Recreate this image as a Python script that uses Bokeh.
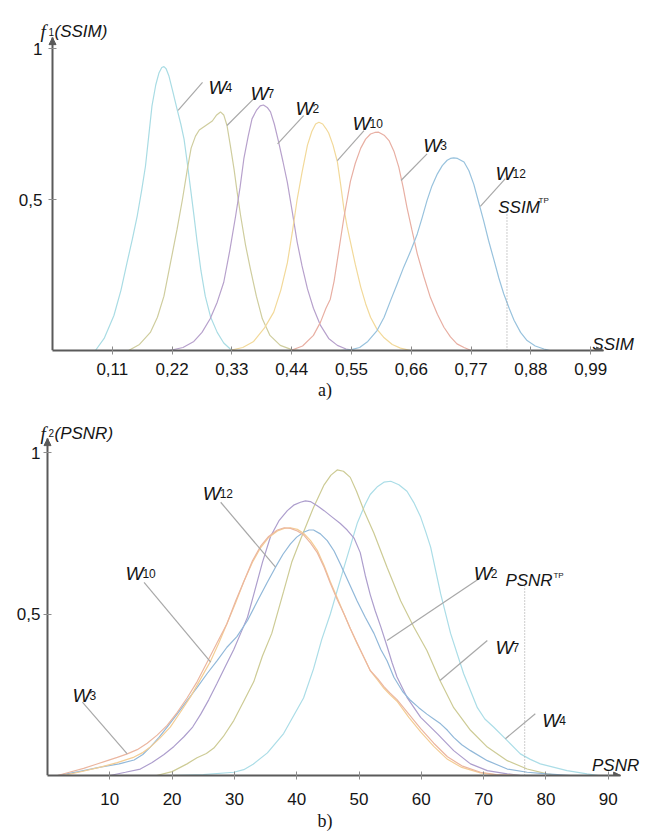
from bokeh.plotting import figure
from bokeh.models import (Range1d, FixedTicker, CustomJSTickFormatter, Arrow,
                          NormalHead, ColumnDataSource)
from bokeh.layouts import column
from bokeh.embed import file_html
from bokeh.resources import INLINE
from bokeh.core.properties import value

# ---------------- panel a): SSIM densities ----------------
ssim_w4_x = [0.079, 0.095, 0.113, 0.126, 0.137, 0.147, 0.156, 0.164, 0.171, 0.177, 0.183, 0.190, 0.196, 0.201, 0.205,
             0.209, 0.214, 0.221, 0.229, 0.236, 0.242, 0.248, 0.254, 0.260, 0.266, 0.273, 0.281, 0.291, 0.303, 0.315,
             0.327, 0.335]
ssim_w4_y = [0.0, 0.04, 0.116, 0.20, 0.29, 0.37, 0.447, 0.53, 0.61, 0.71, 0.81, 0.88, 0.92, 0.937, 0.94,
             0.933, 0.91, 0.86, 0.80, 0.75, 0.70, 0.62, 0.535, 0.45, 0.36, 0.265, 0.18, 0.11, 0.06, 0.025,
             0.005, 0.0]

ssim_w7_x = [0.140, 0.160, 0.180, 0.193, 0.205, 0.217, 0.229, 0.239, 0.248, 0.255, 0.263, 0.270, 0.278, 0.286, 0.294,
             0.302, 0.309, 0.315, 0.321, 0.327, 0.334, 0.340, 0.346, 0.355, 0.364, 0.375, 0.386, 0.400, 0.419, 0.440,
             0.455]
ssim_w7_y = [0.0, 0.02, 0.06, 0.11, 0.18, 0.29, 0.40, 0.50, 0.60, 0.67, 0.71, 0.73, 0.74, 0.75, 0.76,
             0.78, 0.79, 0.78, 0.745, 0.68, 0.60, 0.52, 0.447, 0.35, 0.27, 0.18, 0.105, 0.05, 0.017, 0.003,
             0.0]

ssim_w2_x = [0.215, 0.240, 0.260, 0.275, 0.290, 0.303, 0.315, 0.326, 0.337, 0.345, 0.352, 0.360, 0.367, 0.375, 0.382,
             0.388, 0.395, 0.401, 0.408, 0.416, 0.424, 0.432, 0.441, 0.450, 0.459, 0.469, 0.480, 0.493, 0.508, 0.524,
             0.540, 0.557]
ssim_w2_y = [0.0, 0.01, 0.03, 0.06, 0.105, 0.16, 0.226, 0.33, 0.447, 0.54, 0.635, 0.71, 0.767, 0.795, 0.81,
             0.813, 0.805, 0.79, 0.75, 0.69, 0.625, 0.557, 0.46, 0.36, 0.28, 0.204, 0.14, 0.083, 0.04, 0.017,
             0.005, 0.0]

ssim_w10_x = [0.325, 0.350, 0.370, 0.390, 0.407, 0.420, 0.432, 0.441, 0.450, 0.459, 0.469, 0.477, 0.484, 0.490, 0.497,
              0.503, 0.508, 0.516, 0.524, 0.530, 0.536, 0.542, 0.548, 0.557, 0.567, 0.576, 0.585, 0.597, 0.609, 0.625,
              0.640, 0.659]
ssim_w10_y = [0.0, 0.01, 0.03, 0.075, 0.127, 0.20, 0.29, 0.39, 0.50, 0.59, 0.68, 0.725, 0.75, 0.756, 0.75,
              0.735, 0.72, 0.68, 0.625, 0.55, 0.47, 0.41, 0.36, 0.285, 0.21, 0.155, 0.11, 0.07, 0.044, 0.02,
              0.008, 0.0]

ssim_w3_x = [0.438, 0.460, 0.480, 0.493, 0.503, 0.511, 0.518, 0.524, 0.530, 0.536, 0.542, 0.548, 0.557, 0.567, 0.576,
             0.585, 0.593, 0.600, 0.610, 0.619, 0.628, 0.637, 0.645, 0.652, 0.661, 0.671, 0.683, 0.695, 0.708, 0.720,
             0.732, 0.744, 0.757, 0.770]
ssim_w3_y = [0.0, 0.015, 0.05, 0.094, 0.14, 0.17, 0.23, 0.30, 0.37, 0.44, 0.50, 0.56, 0.62, 0.67, 0.70,
             0.717, 0.722, 0.723, 0.713, 0.695, 0.66, 0.607, 0.54, 0.474, 0.40, 0.32, 0.245, 0.176, 0.12, 0.077,
             0.045, 0.022, 0.01, 0.0]

ssim_w12_x = [0.530, 0.550, 0.565, 0.580, 0.597, 0.610, 0.622, 0.634, 0.646, 0.659, 0.671, 0.680, 0.689, 0.698, 0.708,
              0.717, 0.726, 0.732, 0.738, 0.745, 0.751, 0.757, 0.766, 0.775, 0.784, 0.793, 0.802, 0.812, 0.821, 0.830,
              0.840, 0.849, 0.861, 0.873, 0.888, 0.904, 0.915]
ssim_w12_y = [0.0, 0.003, 0.01, 0.03, 0.066, 0.11, 0.166, 0.22, 0.276, 0.33, 0.386, 0.44, 0.497, 0.545, 0.585,
              0.612, 0.63, 0.636, 0.638, 0.636, 0.63, 0.624, 0.595, 0.55, 0.49, 0.43, 0.365, 0.30, 0.24, 0.188,
              0.14, 0.10, 0.06, 0.033, 0.015, 0.005, 0.0]

ssim_ticks = [0.11, 0.22, 0.33, 0.44, 0.55, 0.66, 0.77, 0.88, 0.99]
density_ticks = [0.5, 1.0]
ssim_tp = 0.836          # threshold SSIM value (dotted marker)
ssim_tp_top = 0.464

ssim_names = ["4", "7", "2", "10", "3", "12"]

# ---------------- panel b): PSNR densities ----------------
psnr_w4_x = [19.7, 25.0, 29.9, 31.5, 33.0, 35.3, 37.9, 39.5, 41.1, 42.7, 44.0, 45.4, 47.6, 49.7, 51.0,
             51.8, 53.0, 54.0, 55.1, 56.4, 57.7, 58.8, 59.9, 60.7, 61.5, 62.3, 63.1, 64.7, 66.8, 69.0,
             70.2, 71.6, 73.8, 75.9, 77.5, 79.1, 83.4, 86.6, 88.5]
psnr_w4_y = [0.0, 0.003, 0.01, 0.018, 0.035, 0.07, 0.13, 0.185, 0.24, 0.33, 0.42, 0.50, 0.645, 0.78, 0.84,
             0.87, 0.895, 0.908, 0.911, 0.90, 0.88, 0.845, 0.80, 0.755, 0.707, 0.635, 0.563, 0.44, 0.315, 0.21,
             0.175, 0.15, 0.108, 0.067, 0.05, 0.036, 0.015, 0.005, 0.0]

psnr_w7_x = [17.5, 20.0, 22.4, 24.0, 25.5, 26.7, 28.2, 29.9, 31.5, 33.1, 34.5, 36.0, 37.9, 39.2, 40.6,
             42.7, 44.4, 45.5, 46.5, 47.5, 48.6, 49.6, 50.8, 52.4, 54.5, 56.7, 58.8, 60.9, 63.0, 65.2,
             67.9, 70.6, 73.8, 77.0, 80.2, 82.0]
psnr_w7_y = [0.0, 0.012, 0.036, 0.055, 0.068, 0.085, 0.12, 0.17, 0.23, 0.29, 0.37, 0.44, 0.57, 0.66, 0.73,
             0.83, 0.90, 0.93, 0.946, 0.942, 0.923, 0.88, 0.82, 0.75, 0.645, 0.54, 0.46, 0.387, 0.294, 0.21,
             0.14, 0.088, 0.046, 0.02, 0.005, 0.0]

psnr_w2_x = [10.0, 12.5, 14.9, 16.8, 18.7, 20.3, 21.9, 23.3, 24.6, 25.9, 27.2, 28.6, 29.9, 31.0, 32.1,
             33.1, 34.5, 35.8, 37.2, 38.5, 39.6, 40.6, 41.4, 42.2, 43.3, 44.4, 45.7, 47.0, 48.1, 49.2,
             50.2, 51.0, 51.8, 52.6, 53.5, 54.5, 55.3, 56.1, 57.7, 59.9, 62.6, 65.2, 67.9, 70.6, 73.8,
             76.0]
psnr_w2_y = [0.0, 0.01, 0.02, 0.04, 0.065, 0.09, 0.12, 0.15, 0.19, 0.235, 0.285, 0.34, 0.39, 0.44, 0.49,
             0.56, 0.66, 0.74, 0.79, 0.82, 0.838, 0.846, 0.85, 0.848, 0.835, 0.82, 0.80, 0.78, 0.76, 0.735,
             0.69, 0.62, 0.56, 0.51, 0.46, 0.40, 0.35, 0.305, 0.242, 0.18, 0.129, 0.077, 0.036, 0.015, 0.005,
             0.0]

psnr_w12_x = [1.6, 5.0, 8.5, 11.5, 13.9, 15.3, 16.5, 17.9, 19.2, 20.8, 22.4, 24.0, 25.6, 27.2, 28.8,
              30.4, 32.1, 33.7, 35.2, 36.6, 37.8, 39.0, 40.0, 41.1, 42.0, 42.7, 43.8, 44.9, 46.0, 47.0,
              48.3, 49.7, 51.0, 52.4, 53.5, 54.5, 55.6, 57.0, 58.3, 59.6, 60.9, 62.0, 63.1, 64.2, 65.2,
              66.5, 67.9, 70.6, 73.8, 77.0, 80.2, 84.0]
psnr_w12_y = [0.0, 0.012, 0.026, 0.036, 0.048, 0.065, 0.088, 0.118, 0.15, 0.19, 0.232, 0.272, 0.315, 0.355, 0.397,
              0.43, 0.48, 0.54, 0.595, 0.645, 0.685, 0.717, 0.738, 0.753, 0.76, 0.76, 0.748, 0.727, 0.695, 0.655,
              0.60, 0.54, 0.49, 0.44, 0.39, 0.355, 0.304, 0.26, 0.232, 0.21, 0.19, 0.175, 0.16, 0.14, 0.118,
              0.095, 0.077, 0.046, 0.02, 0.01, 0.005, 0.0]

psnr_w3_x = [1.6, 3.5, 5.8, 7.7, 9.6, 11.2, 12.8, 14.4, 16.0, 17.6, 19.2, 20.8, 22.4, 24.0, 25.6,
             27.2, 28.8, 30.2, 31.5, 32.9, 34.2, 35.5, 36.9, 38.0, 39.0, 40.1, 41.1, 42.2, 43.3, 44.4,
             45.4, 46.5, 47.6, 48.6, 49.7, 50.8, 51.8, 53.0, 54.0, 55.0, 56.1, 58.0, 59.9, 62.0, 64.2,
             66.5, 69.5, 72.0, 75.0]
psnr_w3_y = [0.0, 0.01, 0.022, 0.034, 0.046, 0.056, 0.067, 0.08, 0.10, 0.125, 0.155, 0.195, 0.24, 0.29, 0.35,
             0.41, 0.47, 0.54, 0.60, 0.665, 0.71, 0.74, 0.76, 0.767, 0.765, 0.757, 0.745, 0.72, 0.69, 0.645,
             0.595, 0.545, 0.50, 0.455, 0.41, 0.365, 0.325, 0.30, 0.275, 0.255, 0.235, 0.19, 0.145, 0.10, 0.058,
             0.03, 0.01, 0.003, 0.0]

psnr_w10_x = [2.5, 5.0, 8.5, 11.2, 13.9, 15.2, 16.5, 18.0, 19.7, 21.3, 23.0, 24.6, 26.2, 27.5, 28.8,
              30.2, 31.5, 32.9, 34.2, 35.5, 36.9, 38.0, 39.0, 40.1, 41.1, 42.2, 43.3, 44.4, 45.4, 46.5,
              47.6, 48.6, 49.7, 50.8, 51.8, 53.0, 54.0, 55.0, 56.1, 58.0, 59.9, 62.0, 64.2, 66.5, 69.5,
              72.0, 76.0]
psnr_w10_y = [0.0, 0.01, 0.026, 0.04, 0.057, 0.07, 0.088, 0.115, 0.15, 0.195, 0.245, 0.30, 0.355, 0.41, 0.47,
              0.535, 0.60, 0.66, 0.705, 0.737, 0.757, 0.765, 0.767, 0.762, 0.75, 0.728, 0.697, 0.65, 0.60, 0.55,
              0.50, 0.455, 0.408, 0.365, 0.325, 0.295, 0.27, 0.25, 0.23, 0.18, 0.135, 0.09, 0.05, 0.025, 0.008,
              0.002, 0.0]

psnr_ticks = [10, 20, 30, 40, 50, 60, 70, 80, 90]
psnr_tp = 76.6           # threshold PSNR value (dotted marker)
psnr_tp_top = 0.593

psnr_names = ["12", "10", "3", "2", "7", "4"]

# ---------------- styling ----------------
SANS = "Liberation Sans"
SERIF = "Liberation Serif"
AXIS = "#5a5a5a"
LEADER = "#a8a8a8"
INK = "#151515"

ssim_curves = [
    (ssim_w4_x, ssim_w4_y, "#a9dce4"),
    (ssim_w7_x, ssim_w7_y, "#cfcd9e"),
    (ssim_w2_x, ssim_w2_y, "#b7a1cc"),
    (ssim_w10_x, ssim_w10_y, "#f2d99a"),
    (ssim_w3_x, ssim_w3_y, "#e8afa3"),
    (ssim_w12_x, ssim_w12_y, "#98c2dd"),
]
psnr_curves = [
    (psnr_w4_x, psnr_w4_y, "#abdde7"),
    (psnr_w7_x, psnr_w7_y, "#cdcb95"),
    (psnr_w2_x, psnr_w2_y, "#ad9ecd"),
    (psnr_w12_x, psnr_w12_y, "#91b8d9"),
    (psnr_w10_x, psnr_w10_y, "#f4cd94"),
    (psnr_w3_x, psnr_w3_y, "#ebb6a0"),
]

# callout placement (text anchor, leader start, leader end on the curve)
ssim_callouts = dict(
    tx=[0.287, 0.364, 0.447, 0.552, 0.682, 0.815],
    ty=[0.871, 0.851, 0.801, 0.752, 0.679, 0.586],
    x0=[0.276, 0.370, 0.462, 0.573, 0.689, 0.833],
    y0=[0.888, 0.833, 0.778, 0.728, 0.651, 0.569],
    x1=[0.231, 0.321, 0.414, 0.524, 0.641, 0.787],
    y1=[0.795, 0.745, 0.684, 0.629, 0.563, 0.477],
)
psnr_callouts = dict(
    tx=[24.9, 12.5, 4.0, 68.4, 71.9, 79.4],
    ty=[0.873, 0.625, 0.248, 0.625, 0.397, 0.170],
    x0=[27.8, 15.5, 5.6, 69.5, 70.6, 78.3],
    y0=[0.846, 0.598, 0.227, 0.612, 0.418, 0.191],
    x1=[36.6, 26.2, 12.8, 54.5, 63.0, 73.5],
    y1=[0.645, 0.351, 0.067, 0.418, 0.294, 0.114],
)

FRAME_LEFT = 6
FRAME_RIGHT = 10


def panel(height, axis_px, bottom, x_per_px, y_per_px, x_axis_end, y_axis_end,
          xticks, xfmt, xstandoff, ystandoff, caption, caption_standoff):
    top = 5
    fw = 653 - FRAME_LEFT - FRAME_RIGHT
    fh = height - top - bottom
    x0 = -(axis_px - FRAME_LEFT) * x_per_px
    p = figure(width=653, height=height,
               x_range=Range1d(x0, x0 + fw * x_per_px), y_range=Range1d(0, fh * y_per_px),
               output_backend="svg", toolbar_location=None,
               min_border_left=FRAME_LEFT, min_border_right=FRAME_RIGHT,
               min_border_top=top, min_border_bottom=bottom)
    p.outline_line_color = None
    p.xgrid.visible = False
    p.ygrid.visible = False
    p.background_fill_color = "white"
    p.border_fill_color = "white"

    xa, ya = p.xaxis[0], p.yaxis[0]
    ya.fixed_location = 0
    xa.bounds = (0, x_axis_end)
    ya.bounds = (0, y_axis_end)
    xa.ticker = FixedTicker(ticks=xticks)
    ya.ticker = FixedTicker(ticks=density_ticks)
    xa.formatter = CustomJSTickFormatter(code=xfmt)
    ya.formatter = CustomJSTickFormatter(
        code="return tick >= 1 ? '1' : tick.toFixed(1).replace('.', ',');")
    xa.major_label_standoff = xstandoff
    ya.major_label_standoff = ystandoff
    for ax in (xa, ya):
        ax.axis_line_color = AXIS
        ax.axis_line_width = 2
        ax.major_tick_line_color = "#8c8c8c"
        ax.major_tick_line_width = 1
        ax.major_tick_in = 4
        ax.major_tick_out = 4
        ax.minor_tick_line_color = None
        ax.major_label_text_font = SANS
        ax.major_label_text_font_size = "17px"
        ax.major_label_text_color = INK
    xa.axis_label = caption
    xa.axis_label_text_font = SERIF
    xa.axis_label_text_font_style = "normal"
    xa.axis_label_text_font_size = "18px"
    xa.axis_label_text_color = INK
    xa.axis_label_standoff = caption_standoff

    head = dict(size=7, fill_color=AXIS, line_color=AXIS)
    p.add_layout(Arrow(end=NormalHead(**head), line_color=AXIS, line_width=1,
                       x_start=x_axis_end * 0.98, y_start=0, x_end=x_axis_end, y_end=0))
    p.add_layout(Arrow(end=NormalHead(**head), line_color=AXIS, line_width=1,
                       x_start=0, y_start=y_axis_end * 0.98, x_end=0, y_end=y_axis_end))
    return p


def text(p, x, y, s, size, style="normal", font=SANS, dx=0):
    p.text([x], [y], text=[s], x_offset=dx, text_font=value(font), text_font_style=style,
           text_font_size=size, text_color=INK, text_baseline="alphabetic", text_align="left")


def callouts(p, spec, subs):
    src = ColumnDataSource(dict(spec, w=["W"] * len(subs), sub=subs))
    p.segment("x0", "y0", "x1", "y1", source=src, line_color=LEADER, line_width=1.2)
    p.text("tx", "ty", text="w", source=src, text_font=value(SANS), text_font_style="italic",
           text_font_size="19px", text_color=INK, text_baseline="alphabetic", text_align="left")
    p.text("tx", "ty", text="sub", source=src, x_offset=17, text_font=value(SANS),
           text_font_size="12px", text_color=INK, text_baseline="alphabetic", text_align="left")


def ylabel(p, x, y, sub, name):
    text(p, x, y, "f", "19px", "italic", SERIF)
    text(p, x, y, sub, "10px", dx=8)
    text(p, x, y, name, "17px", "italic", dx=14)


# ---- panel a)
xa_per_px = 0.11 / 59.8
pa = panel(410, 52, 60, xa_per_px, 1 / 302.0, 1.0136, 1.036, ssim_ticks,
           "return tick.toFixed(2).replace('.', ',');", 8, 6, "a)", 2)
for xs, ys, c in ssim_curves:
    pa.line(xs, ys, line_color=c, line_width=1.2)
pa.segment([ssim_tp], [0], [ssim_tp], [ssim_tp_top], line_color="#9a9a9a",
           line_width=1, line_dash="1 2")
callouts(pa, ssim_callouts, ssim_names)
text(pa, 0.820, 0.474, "SSIM", "17px", "italic")
text(pa, 0.894, 0.497, "TP", "8px")
text(pa, 0.993, 0.02, "SSIM", "17px", "italic")
ylabel(pa, -12 * xa_per_px, 1.056, "1", "(SSIM)")

# ---- panel b)
xb_per_px = 10 / 62.3
pb = panel(425, 47, 60, xb_per_px, 1 / 323.0, 92.0, 1.043, psnr_ticks,
           "return tick.toFixed(0);", 13, 3, "b)", 3)
for xs, ys, c in psnr_curves:
    pb.line(xs, ys, line_color=c, line_width=1.2)
pb.segment([psnr_tp], [0], [psnr_tp], [psnr_tp_top], line_color="#9a9a9a",
           line_width=1, line_dash="1 2")
callouts(pb, psnr_callouts, psnr_names)
text(pb, 73.5, 0.604, "PSNR", "17px", "italic")
text(pb, 81.2, 0.619, "TP", "8px")
text(pb, 87.4, 0.031, "PSNR", "17px", "italic")
ylabel(pb, -7 * xb_per_px, 1.059, "2", "(PSNR)")

layout = column(pa, pb)
open("out.html", "w").write(file_html(layout, INLINE))
